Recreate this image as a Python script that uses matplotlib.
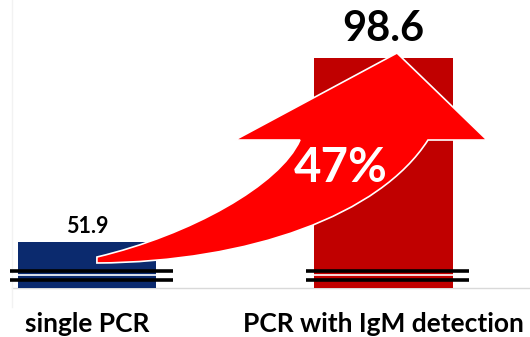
import numpy as np
import matplotlib; matplotlib.use("Agg")
import matplotlib.pyplot as plt
from matplotlib.path import Path
from matplotlib.patches import PathPatch

categories = ["single PCR", "PCR with IgM detection"]
values = [51.9, 98.6]
bar_colors = ["#0B2A6E", "#C00000"]
gain_label = "47%"

plt.rcParams["font.family"] = ["Lato", "DejaVu Sans"]

W, H = 530, 337
fig = plt.figure(figsize=(W / 100, H / 100), dpi=100)
ax = fig.add_axes([0, 49 / H, 1, 288 / H])

x = np.arange(len(categories))
ax.bar(x, values, width=0.466, color=bar_colors, zorder=2)
ax.set_xlim(-0.293, 1.494)
ax.set_ylim(40.2, 113.3)

# broken-axis marks
for xi in x:
    for yy in (44.6, 42.3):
        ax.plot([xi - 0.26, xi + 0.29], [yy, yy], color="black", lw=2.6,
                solid_capstyle="butt", zorder=3)
    ax.plot([xi - 0.26, xi + 0.29], [43.45, 43.45], color="white", lw=1.2,
            solid_capstyle="butt", zorder=3)

# baseline and faint left edge
ax.plot([-0.254, 1.494], [40.2, 40.2], color="#d9d9d9", lw=1, zorder=1,
        clip_on=False)
ax.plot([-0.254, -0.254], [35.3, 113.3], color="#f2f2f2", lw=1, zorder=1,
        clip_on=False)

# curved growth arrow from bar 0 to above bar 1
def px(p):
    return ((p[0] - 87) / 296.5, 40.2 + (288 - p[1]) / 3.94)

pts = [(97, 263), (250, 262), (380, 215), (428, 140),
       (487, 140), (397, 53), (235, 140), (300, 140),
       (280, 185), (190, 235), (97, 257), (97, 263)]
codes = [Path.MOVETO, Path.CURVE4, Path.CURVE4, Path.CURVE4,
         Path.LINETO, Path.LINETO, Path.LINETO, Path.LINETO,
         Path.CURVE4, Path.CURVE4, Path.CURVE4, Path.CLOSEPOLY]
arrow = PathPatch(Path([px(p) for p in pts], codes), facecolor="#FF0000",
                  edgecolor="white", lw=1.2, zorder=4)
ax.add_patch(arrow)

ax.text(*px((341, 168)), gain_label, color="white", fontsize=34,
        fontweight="bold", ha="center", va="center", zorder=5)

# value labels
ax.text(x[0], values[0] + 3.9, f"{values[0]}", fontsize=15.5, fontweight="bold",
        ha="center", va="center", zorder=5)
ax.text(x[1], values[1] + 7.3, f"{values[1]}", fontsize=30, fontweight="bold",
        ha="center", va="center", zorder=5)

# category labels
for xi, c in zip(x, categories):
    ax.text(xi, 40.2 - 44 / 3.94, c, fontsize=19, fontweight="bold",
            ha="center", va="baseline", clip_on=False)

ax.axis("off")
fig.savefig("out.png", dpi=100)
